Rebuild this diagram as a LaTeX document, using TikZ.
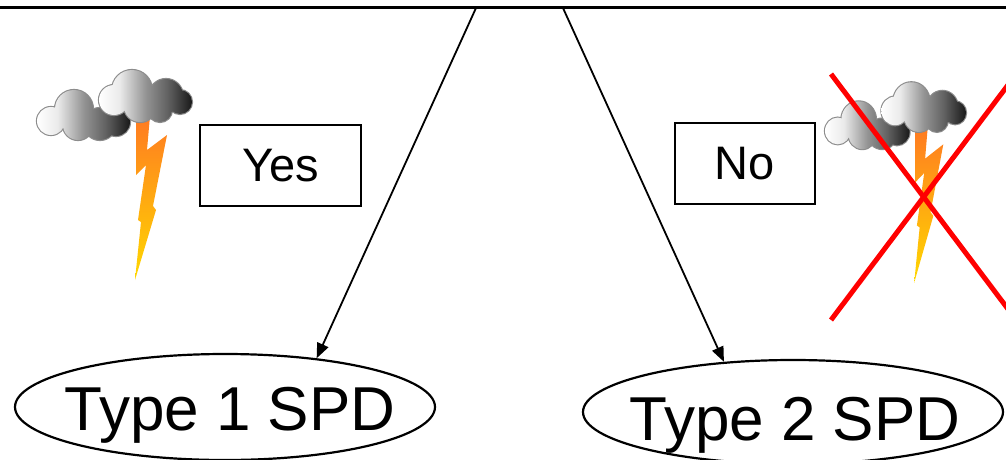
\documentclass[tikz,border=0pt]{standalone}
\usepackage{fontspec}
\setmainfont{Liberation Sans}
\usetikzlibrary{shapes.geometric,arrows.meta}

% grey cloud gradient, white on the left fading to near black on the right
\pgfdeclarehorizontalshading{cloudgrad}{100bp}{%
  color(0bp)=(white); color(25bp)=(white); color(36bp)=(white!92!black);
  color(50bp)=(white!58!black); color(62bp)=(white!38!black);
  color(75bp)=(black!90); color(100bp)=(black!90)}
\definecolor{boltorange}{HTML}{FF7A22}
\definecolor{boltmid}{HTML}{FFA41E}
\definecolor{boltyellow}{HTML}{FFD800}
\definecolor{cloudedge}{HTML}{8C8C8C}
\definecolor{crossred}{HTML}{FF0000}

\tikzset{
  spd/.style={draw, ellipse, line width=2.2pt, inner sep=0pt,
    minimum width=420pt},
  spdtext/.style={inner sep=0pt, anchor=base,
    font=\fontsize{62}{62}\selectfont},
  answer/.style={draw, line width=2.2pt, inner sep=0pt, minimum height=81pt,
    font=\fontsize{47}{47}\selectfont},
  flow/.style={line width=1.8pt, -{Triangle[length=15pt,width=12pt]}},
  topbar/.style={line width=3pt},
  cross/.style={crossred, line width=5pt},
  cloudline/.style={cloudedge, line width=2.2pt},
  % storm cloud with a lightning bolt; origin at the top left of the bolt
  storm/.pic={
    \shade[top color=boltorange, middle color=boltmid, bottom color=boltyellow]
      (-1,-4) -- (-1,55) -- (9,45) -- (1,100) -- (4,102) -- (-2,160)
      -- (19,90) -- (16,86) -- (30,15) -- (10,30) -- (13,-4) -- cycle;
    % back cloud
    \draw[cloudline] (-86,1) circle[radius=14] (-63,-11) circle[radius=19]
      (-59,5) circle[radius=15] (-37,4) circle[radius=16] (-21,2) circle[radius=14];
    \shade[shading=cloudgrad] (-86,1) circle[radius=14] (-63,-11) circle[radius=19]
      (-59,5) circle[radius=15] (-37,4) circle[radius=16] (-21,2) circle[radius=14];
    % front cloud
    \draw[cloudline] (-23,-20) circle[radius=15] (-5,-30) circle[radius=20]
      (3,-14) circle[radius=16] (29,-24) circle[radius=17] (43,-18) circle[radius=12]
      (23,-10) circle[radius=12];
    \shade[shading=cloudgrad] (-23,-20) circle[radius=15] (-5,-30) circle[radius=20]
      (3,-14) circle[radius=16] (29,-24) circle[radius=17] (43,-18) circle[radius=12]
      (23,-10) circle[radius=12];
  }
}

\begin{document}
\begin{tikzpicture}[x=1pt, y=-1pt]
  \useasboundingbox (0,0) rectangle (1006,460);
  \clip (0,0) rectangle (1006,460);

  % decision line and branch points
  \coordinate (topL) at (0,8);
  \coordinate (topR) at (1006,8);
  \coordinate (s1) at (476,8);
  \coordinate (s2) at (563,8);
  \draw[topbar] (topL) -- (topR);

  % storms
  \pic (stormA) at (137,120) {storm};
  \pic[xscale=0.91, yscale=0.955] (stormB) at (916,130) {storm};

  % crossed-out storm
  \coordinate (xa1) at (831,74);
  \coordinate (xa2) at (1020,325);
  \coordinate (xb1) at (831,320);
  \coordinate (xb2) at (1020,69);
  \draw[cross] (xa1) -- (xa2);
  \draw[cross] (xb1) -- (xb2);

  % answers
  \node[answer, minimum width=161pt] (yes) at (280.5,165.5) {Yes};
  \node[answer, minimum width=140pt] (no) at (745,163.5) {No};

  % outcomes
  \node[spd, minimum height=106pt] (t1) at (225,407) {};
  \node[spdtext] (t1label) at (230,430) {Type 1 SPD};
  \node[spd, minimum height=104pt] (t2) at (793,412) {};
  \node[spdtext] (t2label) at (795,440) {Type 2 SPD};

  % branches
  \draw[flow] (s1) -- (t1.28);
  \draw[flow] (s2) -- (t2.144);
\end{tikzpicture}
\end{document}
